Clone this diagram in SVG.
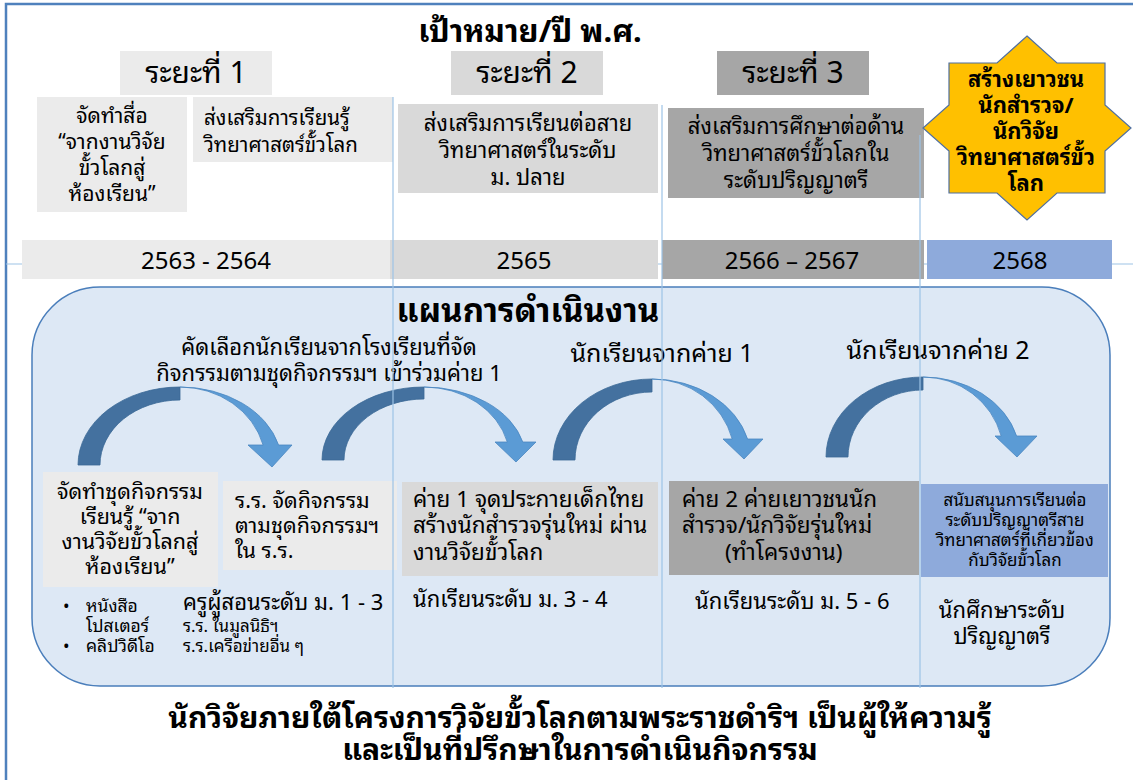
<svg xmlns="http://www.w3.org/2000/svg" width="1133" height="780" viewBox="0 0 1133 780">
<style>
text{font-family:"Noto Sans Thai Looped","Noto Sans Thai","Tahoma","Noto Sans","DejaVu Sans",sans-serif;fill:#000}
.t20{font-size:20px}
.t22{font-size:22px}
.t17{font-size:17px}
.b{font-weight:bold}
.c{text-anchor:middle}
.g1{fill:#ebebeb}
.g2{fill:#d9d9d9}
.g3{fill:#a6a6a6}
.bl{fill:#8eaadb}
.dark{fill:#44719f;stroke:#3a6896;stroke-width:0.8}
.light{fill:#5b9bd5;stroke:#4a86c0;stroke-width:0.8}
.vl{stroke:#9dc3e6;stroke-width:1.2;fill:none}
</style>
<rect x="0" y="0" width="1133" height="780" fill="#fff"/>
<rect x="6" y="4" width="1140" height="800" fill="none" stroke="#4f81bd" stroke-width="2.5"/>
<line x1="6" y1="264" x2="1133" y2="264" class="vl"/>

<text x="530" y="42" class="c b" font-size="31">เป้าหมาย/ปี พ.ศ.</text>

<g id="phase1">
<rect x="120" y="51" width="152" height="44" class="g1"/>
<text x="196" y="83" class="c" font-size="30">ระยะที่ 1</text>
</g>
<g id="phase2">
<rect x="451" y="51" width="152" height="44" class="g2"/>
<text x="527" y="83" class="c" font-size="30">ระยะที่ 2</text>
</g>
<g id="phase3">
<rect x="717" y="51" width="152" height="44" class="g3"/>
<text x="793" y="83" class="c" font-size="30">ระยะที่ 3</text>
</g>

<g id="goal1a">
<rect x="37" y="97" width="150" height="115" class="g1"/>
<text class="c" font-size="21"><tspan x="112" y="123">จัดทำสื่อ</tspan><tspan x="112" y="149">“จากงานวิจัย</tspan><tspan x="112" y="175">ขั้วโลกสู่</tspan><tspan x="112" y="201">ห้องเรียน”</tspan></text>
</g>
<g id="goal1b">
<rect x="193" y="97" width="200" height="65" class="g1"/>
<text font-size="20.5"><tspan x="204" y="125">ส่งเสริมการเรียนรู้</tspan><tspan x="204" y="152">วิทยาศาสตร์ขั้วโลก</tspan></text>
</g>
<g id="goal2">
<rect x="398" y="104" width="260" height="89" class="g2"/>
<text class="t22 c"><tspan x="528" y="131">ส่งเสริมการเรียนต่อสาย</tspan><tspan x="528" y="158">วิทยาศาสตร์ในระดับ</tspan><tspan x="528" y="185">ม. ปลาย</tspan></text>
</g>
<g id="goal3">
<rect x="668" y="108" width="256" height="90" class="g3"/>
<text class="t22 c"><tspan x="796" y="134">ส่งเสริมการศึกษาต่อด้าน</tspan><tspan x="796" y="161">วิทยาศาสตร์ขั้วโลกใน</tspan><tspan x="796" y="188">ระดับปริญญาตรี</tspan></text>
</g>
<g id="goalStar">
<polygon points="1027,36 1057,63 1105,63 1105,105 1131,128 1105,151 1105,193 1057,193 1027,220 997,193 949,193 949,151 923,128 949,105 949,63 997,63" fill="#ffc000" stroke="#4f6fa0" stroke-width="1.2"/>
<text class="t22 c b"><tspan x="1026" y="87">สร้างเยาวชน</tspan><tspan x="1026" y="113">นักสำรวจ/</tspan><tspan x="1026" y="139">นักวิจัย</tspan><tspan x="1026" y="165">วิทยาศาสตร์ขั้ว</tspan><tspan x="1026" y="191">โลก</tspan></text>
</g>

<g id="year1">
<rect x="22" y="240" width="368" height="39" class="g1"/>
<text x="206" y="269" class="c" font-size="24">2563 - 2564</text>
</g>
<g id="year2">
<rect x="390" y="240" width="268" height="39" class="g2"/>
<text x="524" y="269" class="c" font-size="24">2565</text>
</g>
<g id="year3">
<rect x="662" y="240" width="262" height="39" class="g3"/>
<text x="792" y="269" class="c" font-size="24">2566 – 2567</text>
</g>
<g id="year4">
<rect x="927" y="240" width="185" height="39" class="bl"/>
<text x="1020" y="269" class="c" font-size="24">2568</text>
</g>

<g id="plan">
<rect x="32" y="287" width="1078" height="399" rx="68" ry="68" fill="#dde8f5" stroke="#4a7ebb" stroke-width="1.5"/>
<text x="528" y="322" class="c b" font-size="33">แผนการดำเนินงาน</text>
</g>

<g id="connectors">
<path class="dark" d="M78,465 A102,78 0 0 1 180,387 L180,400 A80,65 0 0 0 100,465 Z"/>
<path class="light" d="M180,387 A102,78 0 0 1 278.6,445 L292,445 L272,467 L248,445 L263.1,445 A86,78 0 0 0 180,387 Z"/>
<path class="dark" d="M322,460 A102,73 0 0 1 424,387 L424,399 A80,61 0 0 0 344,460 Z"/>
<path class="light" d="M424,387 A102,73 0 0 1 522.8,442 L536,442 L516,462 L495,442 L507.3,442 A86,73 0 0 0 424,387 Z"/>
<path class="dark" d="M553,460 A99,81 0 0 1 652,379 L652,392 A77,68 0 0 0 575,460 Z"/>
<path class="light" d="M652,379 A99,81 0 0 1 747.6,439 L763,439 L744,459 L723,439 L732.2,439 A83,81 0 0 0 652,379 Z"/>
<path class="dark" d="M826,457 A97,80 0 0 1 923,377 L923,390 A75,67 0 0 0 848,457 Z"/>
<path class="light" d="M923,377 A97,80 0 0 1 1016.6,436 L1037,436 L1017,457 L995,436 L1001.2,436 A81,80 0 0 0 923,377 Z"/>
<text class="t22 c"><tspan x="329" y="355">คัดเลือกนักเรียนจากโรงเรียนที่จัด</tspan><tspan x="329" y="381">กิจกรรมตามชุดกิจกรรมฯ เข้าร่วมค่าย 1</tspan></text>
<text x="662" y="362" class="c" font-size="25">นักเรียนจากค่าย 1</text>
<text x="938" y="359" class="c" font-size="25">นักเรียนจากค่าย 2</text>
</g>

<g id="stepA">
<rect x="43" y="472" width="175" height="115" class="g1"/>
<text class="c" font-size="21.5"><tspan x="130" y="499">จัดทำชุดกิจกรรม</tspan><tspan x="130" y="524">เรียนรู้ “จาก</tspan><tspan x="130" y="549">งานวิจัยขั้วโลกสู่</tspan><tspan x="130" y="574">ห้องเรียน”</tspan></text>
</g>
<g id="stepB">
<rect x="223" y="481" width="174" height="89" class="g1"/>
<text font-size="21.5"><tspan x="235" y="508">ร.ร. จัดกิจกรรม</tspan><tspan x="235" y="533">ตามชุดกิจกรรมฯ</tspan><tspan x="235" y="558">ใน ร.ร.</tspan></text>
</g>
<g id="stepC">
<rect x="402" y="482" width="256" height="94" class="g2"/>
<text font-size="22.5"><tspan x="413" y="507">ค่าย 1 จุดประกายเด็กไทย</tspan><tspan x="413" y="533">สร้างนักสำรวจรุ่นใหม่ ผ่าน</tspan><tspan x="413" y="560">งานวิจัยขั้วโลก</tspan></text>
</g>
<g id="stepD">
<rect x="669" y="481" width="250" height="94" class="g3"/>
<text font-size="22.5"><tspan x="682" y="507">ค่าย 2 ค่ายเยาวชนนัก</tspan><tspan x="682" y="533">สำรวจ/นักวิจัยรุ่นใหม่</tspan><tspan x="725" y="560">(ทำโครงงาน)</tspan></text>
</g>
<g id="stepE">
<rect x="921" y="484" width="187" height="93" class="bl"/>
<text class="t17 c"><tspan x="1015" y="506">สนับสนุนการเรียนต่อ</tspan><tspan x="1015" y="526">ระดับปริญญาตรีสาย</tspan><tspan x="1015" y="546">วิทยาศาสตร์ที่เกี่ยวข้อง</tspan><tspan x="1015" y="566">กับวิจัยขั้วโลก</tspan></text>
</g>

<g id="targets">
<text font-size="17.5"><tspan x="63" y="612">•</tspan><tspan x="86" y="612">หนังสือ</tspan><tspan x="86" y="632">โปสเตอร์</tspan><tspan x="63" y="652">•</tspan><tspan x="86" y="652">คลิปวิดีโอ</tspan></text>
<text x="183" y="610" class="t22">ครูผู้สอนระดับ ม. 1 - 3</text>
<text class="t17"><tspan x="183" y="632">ร.ร. ในมูลนิธิฯ</tspan><tspan x="183" y="652">ร.ร.เครือข่ายอื่น ๆ</tspan></text>
<text x="413" y="607" class="t22">นักเรียนระดับ ม. 3 - 4</text>
<text x="695" y="609" class="t22">นักเรียนระดับ ม. 5 - 6</text>
<text class="t22 c"><tspan x="1002" y="618">นักศึกษาระดับ</tspan><tspan x="1002" y="644">ปริญญาตรี</tspan></text>
</g>

<line x1="393" y1="97" x2="393" y2="688" class="vl"/>
<line x1="662" y1="105" x2="662" y2="688" class="vl"/>
<line x1="920" y1="135" x2="920" y2="688" class="vl"/>

<text class="c b" font-size="30"><tspan x="580" y="728">นักวิจัยภายใต้โครงการวิจัยขั้วโลกตามพระราชดำริฯ เป็นผู้ให้ความรู้</tspan><tspan x="580" y="760">และเป็นที่ปรึกษาในการดำเนินกิจกรรม</tspan></text>
</svg>
